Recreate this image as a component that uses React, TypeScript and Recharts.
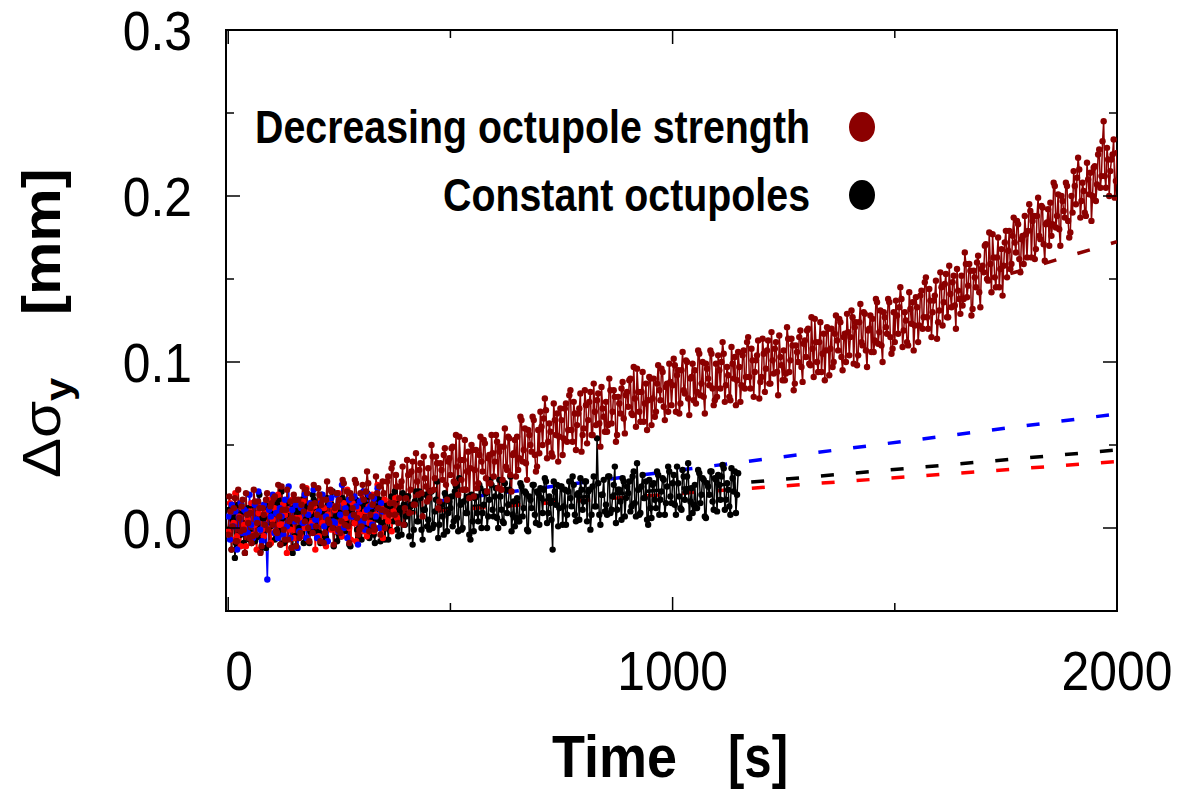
import React from 'react';
import {ComposedChart, Line, ReferenceArea, XAxis, YAxis} from 'recharts';

// beam size growth, sampled every TIME_STEP seconds from t = 0 (set A)
// and again half a step later (set B)
const TIME_STEP = 5;
const SHORT_STEP = 4;

const decreasingOctupoleA = [
  -0.004, 0.010, 0.001, 0.018, -0.008, 0.006, 0.013, -0.001, 0.021, 0.003,
  0.009, -0.005, 0.016, 0.003, 0.012, -0.011, 0.008, 0.017, -0.001, 0.013,
  0.002, 0.019, -0.003, 0.007, 0.025, -0.001, 0.011, -0.007, 0.016, 0.006,
  0.017, 0.005, -0.006, 0.014, 0.010, 0.023, 0.000, 0.012, -0.003, 0.015,
  0.008, 0.020, 0.014, -0.009, 0.017, 0.005, 0.023, 0.000, 0.012, 0.021,
  0.017, 0.004, 0.027, 0.009, 0.001, 0.021, 0.012, 0.029, 0.006, -0.001,
  0.001, 0.017, 0.022, 0.027, 0.008, 0.014, -0.001, 0.021, 0.025, 0.011,
  0.021, 0.010, 0.031, 0.015, 0.039, 0.008, 0.025, 0.018, 0.028, 0.002,
  0.018, 0.032, 0.023, 0.040, 0.014, 0.028, 0.035, 0.021, 0.043, 0.025,
  0.036, 0.022, 0.043, 0.030, 0.039, 0.016, 0.035, 0.044, 0.026, 0.040,
  0.032, 0.049, 0.027, 0.037, 0.055, 0.029, 0.041, 0.023, 0.046, 0.036,
  0.047, 0.035, 0.024, 0.044, 0.040, 0.053, 0.030, 0.042, 0.027, 0.045,
  0.040, 0.052, 0.046, 0.023, 0.049, 0.037, 0.055, 0.032, 0.044, 0.053,
  0.055, 0.042, 0.065, 0.047, 0.039, 0.059, 0.050, 0.067, 0.044, 0.037,
  0.045, 0.061, 0.066, 0.071, 0.052, 0.058, 0.043, 0.065, 0.069, 0.055,
  0.065, 0.054, 0.075, 0.059, 0.083, 0.052, 0.069, 0.062, 0.072, 0.046,
  0.060, 0.074, 0.065, 0.082, 0.056, 0.070, 0.077, 0.063, 0.085, 0.067,
  0.076, 0.062, 0.083, 0.070, 0.079, 0.056, 0.075, 0.084, 0.066, 0.080,
  0.073, 0.090, 0.068, 0.078, 0.096, 0.070, 0.082, 0.064, 0.087, 0.077,
  0.090, 0.078, 0.067, 0.087, 0.083, 0.096, 0.073, 0.085, 0.070, 0.088,
  0.086, 0.098, 0.092, 0.069, 0.095, 0.083, 0.101, 0.078, 0.090, 0.099,
  0.095, 0.082, 0.105, 0.087, 0.079, 0.099, 0.090, 0.107, 0.084, 0.077,
  0.079, 0.095, 0.100, 0.105, 0.086, 0.092, 0.077, 0.099, 0.103, 0.089,
  0.097, 0.086, 0.107, 0.091, 0.115, 0.084, 0.101, 0.094, 0.104, 0.078,
  0.091, 0.105, 0.096, 0.113, 0.087, 0.101, 0.108, 0.094, 0.116, 0.098,
  0.107, 0.093, 0.114, 0.101, 0.110, 0.087, 0.106, 0.115, 0.097, 0.111,
  0.103, 0.120, 0.098, 0.108, 0.126, 0.100, 0.112, 0.094, 0.117, 0.107,
  0.120, 0.108, 0.097, 0.117, 0.113, 0.126, 0.103, 0.115, 0.100, 0.118,
  0.115, 0.127, 0.121, 0.098, 0.124, 0.112, 0.130, 0.107, 0.119, 0.128,
  0.126, 0.113, 0.136, 0.118, 0.110, 0.130, 0.121, 0.138, 0.115, 0.108,
  0.112, 0.128, 0.133, 0.138, 0.119, 0.125, 0.110, 0.132, 0.136, 0.122,
  0.133, 0.122, 0.143, 0.127, 0.151, 0.120, 0.137, 0.130, 0.140, 0.114,
  0.131, 0.145, 0.136, 0.153, 0.127, 0.141, 0.148, 0.134, 0.156, 0.138,
  0.152, 0.138, 0.159, 0.146, 0.155, 0.132, 0.151, 0.160, 0.142, 0.156,
  0.154, 0.171, 0.149, 0.159, 0.177, 0.151, 0.163, 0.145, 0.168, 0.158,
  0.179, 0.167, 0.156, 0.176, 0.172, 0.185, 0.162, 0.174, 0.159, 0.177,
  0.179, 0.191, 0.185, 0.162, 0.188, 0.176, 0.194, 0.171, 0.183, 0.192,
  0.196, 0.183, 0.206, 0.188, 0.180, 0.200, 0.191, 0.208, 0.185, 0.178,
  0.190, 0.206, 0.211, 0.216, 0.197, 0.203, 0.188, 0.210, 0.214, 0.200,
  0.218, 0.207, 0.228, 0.212, 0.245, 0.205, 0.222, 0.215, 0.225, 0.199,
  0.226,
];

const decreasingOctupoleB = [
  0.019, -0.013, 0.012, -0.008, 0.023, -0.002, 0.017, -0.015, 0.008, -0.006,
  -0.009, 0.023, -0.004, 0.016, -0.015, 0.012, 0.002, 0.021, -0.010, 0.015,
  0.018, -0.002, 0.026, -0.010, 0.011, -0.007, 0.023, 0.004, -0.012, 0.020,
  -0.011, 0.017, -0.003, 0.025, 0.004, 0.021, -0.008, 0.014, 0.026, 0.001,
  0.024, -0.008, 0.017, -0.003, 0.028, 0.003, 0.022, -0.010, 0.013, -0.001,
  -0.003, 0.029, 0.002, 0.022, -0.009, 0.018, 0.008, 0.027, -0.004, 0.021,
  0.026, 0.006, 0.034, -0.002, 0.019, 0.001, 0.031, 0.012, -0.004, 0.028,
  0.000, 0.028, 0.008, 0.036, 0.015, 0.032, 0.003, 0.025, 0.037, 0.012,
  0.041, 0.009, 0.034, 0.014, 0.045, 0.020, 0.039, 0.007, 0.030, 0.016,
  0.018, 0.050, 0.023, 0.043, 0.012, 0.039, 0.029, 0.048, 0.017, 0.042,
  0.048, 0.028, 0.056, 0.020, 0.041, 0.023, 0.053, 0.034, 0.018, 0.050,
  0.019, 0.047, 0.027, 0.055, 0.034, 0.051, 0.022, 0.044, 0.056, 0.031,
  0.056, 0.024, 0.049, 0.029, 0.060, 0.035, 0.054, 0.022, 0.045, 0.031,
  0.035, 0.067, 0.040, 0.060, 0.029, 0.056, 0.046, 0.065, 0.034, 0.059,
  0.070, 0.050, 0.078, 0.042, 0.063, 0.045, 0.075, 0.056, 0.040, 0.072,
  0.044, 0.072, 0.052, 0.080, 0.059, 0.076, 0.047, 0.069, 0.081, 0.056,
  0.083, 0.051, 0.076, 0.056, 0.087, 0.062, 0.081, 0.049, 0.072, 0.058,
  0.058, 0.090, 0.063, 0.083, 0.052, 0.079, 0.069, 0.088, 0.057, 0.082,
  0.089, 0.069, 0.097, 0.061, 0.082, 0.064, 0.094, 0.075, 0.059, 0.091,
  0.062, 0.090, 0.070, 0.098, 0.077, 0.094, 0.065, 0.087, 0.099, 0.074,
  0.102, 0.070, 0.095, 0.075, 0.106, 0.081, 0.100, 0.068, 0.091, 0.077,
  0.075, 0.107, 0.080, 0.100, 0.069, 0.096, 0.086, 0.105, 0.074, 0.099,
  0.104, 0.084, 0.112, 0.076, 0.097, 0.079, 0.109, 0.090, 0.074, 0.106,
  0.076, 0.104, 0.084, 0.112, 0.091, 0.108, 0.079, 0.101, 0.113, 0.088,
  0.114, 0.082, 0.107, 0.087, 0.118, 0.093, 0.112, 0.080, 0.103, 0.089,
  0.089, 0.121, 0.094, 0.114, 0.083, 0.110, 0.100, 0.119, 0.088, 0.113,
  0.119, 0.099, 0.127, 0.091, 0.112, 0.094, 0.124, 0.105, 0.089, 0.121,
  0.092, 0.120, 0.100, 0.128, 0.107, 0.124, 0.095, 0.117, 0.129, 0.104,
  0.131, 0.099, 0.124, 0.104, 0.135, 0.110, 0.129, 0.097, 0.120, 0.106,
  0.106, 0.138, 0.111, 0.131, 0.100, 0.127, 0.117, 0.136, 0.105, 0.130,
  0.137, 0.117, 0.145, 0.109, 0.130, 0.112, 0.142, 0.123, 0.107, 0.139,
  0.112, 0.140, 0.120, 0.148, 0.127, 0.144, 0.115, 0.137, 0.149, 0.124,
  0.154, 0.122, 0.147, 0.127, 0.158, 0.133, 0.152, 0.120, 0.143, 0.129,
  0.134, 0.166, 0.139, 0.159, 0.128, 0.155, 0.145, 0.164, 0.133, 0.158,
  0.170, 0.150, 0.178, 0.142, 0.163, 0.145, 0.175, 0.156, 0.140, 0.172,
  0.151, 0.179, 0.159, 0.187, 0.166, 0.183, 0.154, 0.176, 0.188, 0.163,
  0.195, 0.163, 0.188, 0.168, 0.199, 0.174, 0.193, 0.161, 0.184, 0.170,
  0.176, 0.208, 0.181, 0.201, 0.170, 0.197, 0.187, 0.206, 0.175, 0.200,
  0.215, 0.195, 0.223, 0.187, 0.208, 0.190, 0.220, 0.201, 0.185, 0.217,
  0.197, 0.225, 0.205, 0.233, 0.212, 0.229, 0.200, 0.222, 0.234, 0.209,
];

const constantOctupoleA = [
  -0.001, 0.011, 0.005, -0.018, 0.008, -0.004, 0.014, -0.009, 0.003, 0.012,
  -0.003, 0.014, -0.008, 0.002, 0.020, -0.006, 0.006, -0.012, 0.011, 0.001,
  0.004, -0.007, 0.014, -0.002, 0.022, -0.009, 0.008, 0.001, 0.011, -0.015,
  -0.005, 0.009, 0.000, 0.017, -0.009, 0.005, 0.012, -0.002, 0.020, 0.002,
  0.010, -0.003, 0.020, 0.002, -0.006, 0.014, 0.005, 0.022, -0.001, -0.008,
  0.009, -0.005, 0.016, 0.003, 0.012, -0.011, 0.008, 0.017, -0.001, 0.013,
  -0.007, 0.009, 0.014, 0.019, 0.000, 0.006, -0.009, 0.013, 0.017, 0.003,
  0.016, 0.004, -0.007, 0.013, 0.009, 0.022, -0.001, 0.011, -0.004, 0.014,
  0.007, 0.019, 0.013, -0.010, 0.016, 0.004, 0.022, -0.001, 0.011, 0.020,
  0.005, 0.022, 0.000, 0.010, 0.028, 0.002, 0.014, -0.004, 0.019, 0.009,
  0.012, 0.001, 0.022, 0.006, 0.030, -0.001, 0.016, 0.009, 0.019, -0.007,
  0.004, 0.018, 0.009, 0.026, 0.000, 0.014, 0.021, 0.007, 0.029, 0.011,
  0.019, 0.006, 0.029, 0.011, 0.003, 0.023, 0.014, 0.031, 0.008, 0.001,
  0.018, 0.004, 0.025, 0.012, 0.021, -0.002, 0.017, 0.026, 0.008, 0.022,
  0.002, 0.018, 0.023, 0.028, 0.009, 0.015, -0.013, 0.022, 0.026, 0.012,
  0.025, 0.013, 0.002, 0.022, 0.018, 0.031, 0.008, 0.020, 0.005, 0.023,
  0.016, 0.028, 0.022, -0.001, 0.025, 0.013, 0.054, 0.008, 0.020, 0.029,
  0.014, 0.031, 0.009, 0.019, 0.037, 0.011, 0.023, 0.005, 0.028, 0.018,
  0.021, 0.010, 0.031, 0.015, 0.039, 0.008, 0.025, 0.018, 0.028, 0.002,
  0.012, 0.026, 0.017, 0.034, 0.008, 0.022, 0.029, 0.015, 0.037, 0.019,
  0.027, 0.014, 0.037, 0.019, 0.011, 0.031, 0.022, 0.039, 0.016, 0.009,
  0.026, 0.012, 0.033, 0.020, 0.029, 0.006, 0.025, 0.034, 0.016, 0.030,
  0.010, 0.026, 0.031, 0.036, 0.017, 0.023, 0.008, 0.030, 0.034, 0.020,
];

const constantOctupoleB = [
  0.011, -0.013, 0.006, -0.009, 0.014, -0.004, 0.010, -0.015, 0.003, -0.007,
  -0.009, 0.014, -0.006, 0.009, -0.014, 0.006, -0.001, 0.013, -0.010, 0.008,
  0.011, -0.004, 0.017, -0.010, 0.006, -0.008, 0.015, 0.001, -0.012, 0.012,
  -0.011, 0.010, -0.005, 0.015, 0.000, 0.013, -0.009, 0.008, 0.017, -0.002,
  0.015, -0.009, 0.010, -0.005, 0.018, 0.000, 0.014, -0.011, 0.007, -0.003,
  -0.005, 0.018, -0.002, 0.013, -0.010, 0.010, 0.003, 0.017, -0.006, 0.012,
  0.015, 0.000, 0.021, -0.006, 0.010, -0.004, 0.019, 0.005, -0.008, 0.016,
  -0.007, 0.014, -0.001, 0.019, 0.004, 0.017, -0.005, 0.012, 0.021, 0.002,
  0.019, -0.005, 0.014, -0.001, 0.022, 0.004, 0.018, -0.007, 0.011, 0.001,
  -0.001, 0.022, 0.002, 0.017, -0.006, 0.014, 0.007, 0.021, -0.002, 0.016,
  0.019, 0.004, 0.025, -0.002, 0.014, 0.000, 0.023, 0.009, -0.004, 0.020,
  -0.002, 0.019, 0.004, 0.024, 0.009, 0.022, 0.000, 0.017, 0.026, 0.007,
  0.024, 0.000, 0.019, 0.004, 0.027, 0.009, 0.023, -0.002, 0.016, 0.006,
  0.004, 0.027, 0.007, 0.022, -0.001, 0.019, 0.012, 0.026, 0.003, 0.021,
  0.024, 0.009, 0.030, 0.003, 0.019, 0.005, 0.028, 0.014, 0.001, 0.025,
  0.002, 0.023, 0.008, 0.028, 0.013, 0.026, 0.004, 0.021, 0.030, 0.011,
  0.028, 0.004, 0.023, 0.008, 0.031, 0.013, 0.027, 0.002, 0.020, 0.010,
  0.008, 0.031, 0.011, 0.026, 0.003, 0.023, 0.016, 0.030, 0.007, 0.025,
  0.028, 0.013, 0.034, 0.007, 0.023, 0.009, 0.032, 0.018, 0.005, 0.029,
  0.006, 0.027, 0.012, 0.032, 0.017, 0.030, 0.008, 0.025, 0.034, 0.015,
  0.032, 0.008, 0.027, 0.012, 0.035, 0.017, 0.031, 0.006, 0.024, 0.014,
  0.012, 0.035, 0.015, 0.030, 0.007, 0.027, 0.020, 0.034, 0.011, 0.029,
  0.032, 0.017, 0.038, 0.011, 0.027, 0.013, 0.036, 0.022, 0.009, 0.033,
];

// short runs, one value every SHORT_STEP seconds
const blueRun = [
  0.007, -0.007, 0.014, 0.001, 0.010, -0.013, 0.006, 0.015, -0.003, 0.011,
  0.010, -0.003, 0.020, 0.002, -0.006, 0.014, 0.005, 0.022, -0.001, -0.008,
  0.014, 0.002, -0.031, 0.011, 0.007, 0.020, -0.003, 0.009, -0.006, 0.012,
  0.007, -0.004, 0.017, 0.001, 0.025, -0.006, 0.011, 0.004, 0.014, -0.012,
  -0.002, 0.012, 0.003, 0.020, -0.006, 0.008, 0.015, 0.001, 0.023, 0.005,
  -0.006, 0.010, 0.015, 0.020, 0.001, 0.007, -0.008, 0.014, 0.018, 0.004,
  0.003, 0.020, -0.002, 0.008, 0.026, 0.000, 0.012, -0.006, 0.017, 0.007,
  0.007, 0.019, 0.013, -0.010, 0.016, 0.004, 0.022, -0.001, 0.011, 0.020,
  0.013, 0.002, 0.018, 0.007, 0.024, 0.000, 0.015, 0.010,
];

const redRun = [
  -0.002, 0.015, -0.007, 0.003, 0.021, -0.005, 0.007, -0.011, 0.012, 0.002,
  -0.011, 0.005, 0.010, 0.015, -0.004, 0.002, -0.013, 0.009, 0.013, -0.001,
  -0.005, 0.009, 0.000, 0.017, -0.009, 0.005, 0.012, -0.002, 0.020, 0.002,
  0.002, 0.014, 0.008, -0.015, 0.011, -0.001, 0.017, -0.006, 0.006, 0.015,
  0.006, -0.005, 0.016, 0.000, 0.024, -0.007, 0.010, 0.003, 0.013, -0.013,
  0.009, -0.005, 0.016, 0.003, 0.012, -0.011, 0.008, 0.017, -0.001, 0.013,
  0.011, -0.002, 0.021, 0.003, -0.005, 0.015, 0.006, 0.023, 0.000, -0.007,
  0.015, 0.003, -0.008, 0.012, 0.008, 0.021, -0.002, 0.010, -0.005, 0.013,
  0.003, 0.020, -0.002, 0.008, 0.026, 0.000, 0.012, -0.006, 0.017, 0.007,
  0.004, 0.015, -0.002, 0.010, 0.018, 0.006,
];

// fitted trends (start, end)
const fitBlue = [{t: 0, v: 0.0}, {t: 2000, v: 0.0687}];
const fitBlack = [{t: 0, v: 0.0}, {t: 2000, v: 0.047}];
const fitRed = [{t: 0, v: 0.001}, {t: 2000, v: 0.040}];
const fitDarkRed = [{t: 1760, v: 0.1532}, {t: 2000, v: 0.1725}];

const xTicks = [0, 500, 1000, 1500, 2000];
const yTicks = [-0.05, 0, 0.05, 0.1, 0.15, 0.2, 0.25, 0.3];
const X_DOMAIN = [-5, 2000];
const Y_DOMAIN = [-0.05, 0.3];

const LEGEND_NAMES = ['Decreasing octupole strength', 'Constant octupoles'];

const DARK_RED = '#8b0000';
const FONT = '"Liberation Sans", Arial, Helvetica, sans-serif';

const toPoints = (vals, step, offset = 0) => vals.map((v, i) => ({t: i * step + offset, v}));
const merge = (a, b, step) =>
  [...toPoints(a, step), ...toPoints(b, step, step / 2)].sort((p, q) => p.t - q.t);

const PLOT_W = 891;
const PLOT_H = 581;
const SQUEEZE = 0.89;

function XTick({x, y, payload}) {
  const major = payload.value % 1000 === 0;
  const len = major ? 14 : 8;
  const shift = payload.value === 0 ? 11 : 0;
  return (
    <g>
      <line x1={x} y1={y} x2={x} y2={y - len} stroke="#000" strokeWidth={1.5}/>
      <line x1={x} y1={y - PLOT_H} x2={x} y2={y - PLOT_H + len} stroke="#000" strokeWidth={1.5}/>
      {major && (
        <text transform={`translate(${x + shift},${y + 79}) scale(${SQUEEZE},1)`} textAnchor="middle"
              fontFamily={FONT} fontSize={56} fill="#000">
          {payload.value}
        </text>
      )}
    </g>
  );
}

function YTick({x, y, payload}) {
  const v = payload.value;
  const major = Math.abs(v * 10 - Math.round(v * 10)) < 1e-6;
  const len = major ? 14 : 8;
  return (
    <g>
      <line x1={x} y1={y} x2={x + len} y2={y} stroke="#000" strokeWidth={1.5}/>
      <line x1={x + PLOT_W} y1={y} x2={x + PLOT_W - len} y2={y} stroke="#000" strokeWidth={1.5}/>
      {major && (
        <text transform={`translate(${x - 34},${y + 20}) scale(${SQUEEZE},1)`} textAnchor="end"
              fontFamily={FONT} fontSize={56} fill="#000">
          {v.toFixed(1)}
        </text>
      )}
    </g>
  );
}

function Titles() {
  return (
    <svg width={1187} height={793} style={{position: 'absolute', left: 0, top: 0, pointerEvents: 'none'}}>
      <text x={255} y={143} fontFamily={FONT} fontWeight="bold" fontSize={46}
            textLength={555} lengthAdjust="spacingAndGlyphs">{LEGEND_NAMES[0]}</text>
      <ellipse cx={862} cy={127} rx={13} ry={15} fill={DARK_RED}/>
      <text x={443} y={211} fontFamily={FONT} fontWeight="bold" fontSize={46}
            textLength={367} lengthAdjust="spacingAndGlyphs">{LEGEND_NAMES[1]}</text>
      <ellipse cx={862} cy={195} rx={13} ry={15} fill="#000"/>

      <text x={552} y={777} fontFamily={FONT} fontWeight="bold" fontSize={60}
            textLength={125} lengthAdjust="spacingAndGlyphs">Time</text>
      <text x={728} y={777} fontFamily={FONT} fontWeight="bold" fontSize={60}
            textLength={60} lengthAdjust="spacingAndGlyphs">[s]</text>

      <text transform={`translate(60,478) scale(${SQUEEZE},1) rotate(-90)`} fontFamily={FONT} fontSize={60}>
        <tspan>Δσ</tspan>
        <tspan fontWeight="bold" fontSize={42} dy={12}>y</tspan>
        <tspan fontWeight="bold" x={163} dy={-12}>[mm]</tspan>
      </text>
    </svg>
  );
}

export default function App() {
  const series = [
    {name: 'Constant octupoles', data: merge(constantOctupoleA, constantOctupoleB, TIME_STEP), color: '#000'},
    {name: 'red run', data: toPoints(redRun, SHORT_STEP), color: '#ff0000'},
    {name: 'blue run', data: toPoints(blueRun, SHORT_STEP), color: '#0000ff'},
    {name: 'Decreasing octupole strength', data: merge(decreasingOctupoleA, decreasingOctupoleB, TIME_STEP), color: DARK_RED},
  ];
  const fits = [
    {name: 'fit blue', data: fitBlue, color: '#0000ff'},
    {name: 'fit black', data: fitBlack, color: '#000'},
    {name: 'fit red', data: fitRed, color: '#ff0000'},
    {name: 'fit dark red', data: fitDarkRed, color: DARK_RED},
  ];

  return (
    <div style={{position: 'absolute', left: 0, top: 0, width: 1187, height: 793, background: '#fff'}}>
      <ComposedChart width={1187} height={793} margin={{top: 30, right: 70, bottom: 92, left: 126}}>
        <XAxis type="number" dataKey="t" domain={X_DOMAIN} ticks={xTicks} height={90}
               axisLine={false} tickLine={false} tickSize={0} tickMargin={0} tick={<XTick/>}
               allowDataOverflow interval={0}/>
        <YAxis type="number" dataKey="v" domain={Y_DOMAIN} ticks={yTicks} width={100}
               axisLine={false} tickLine={false} tickSize={0} tickMargin={0} tick={<YTick/>}
               allowDataOverflow interval={0}/>
        {fits.map(f => (
          <Line key={f.name} data={f.data} dataKey="v" name={f.name} stroke={f.color} strokeWidth={3.5}
                strokeDasharray="13 22" dot={false} activeDot={false} isAnimationActive={false}/>
        ))}
        {series.map(s => (
          <Line key={s.name} data={s.data} dataKey="v" name={s.name} stroke={s.color} strokeWidth={1.5}
                dot={{r: 3.2, fill: s.color, stroke: s.color, strokeWidth: 0}} activeDot={false}
                isAnimationActive={false}/>
        ))}
        <ReferenceArea x1={X_DOMAIN[0]} x2={X_DOMAIN[1]} y1={Y_DOMAIN[0]} y2={Y_DOMAIN[1]}
                       fill="none" stroke="#000" strokeWidth={2} ifOverflow="visible"/>
      </ComposedChart>
      <Titles/>
    </div>
  );
}
